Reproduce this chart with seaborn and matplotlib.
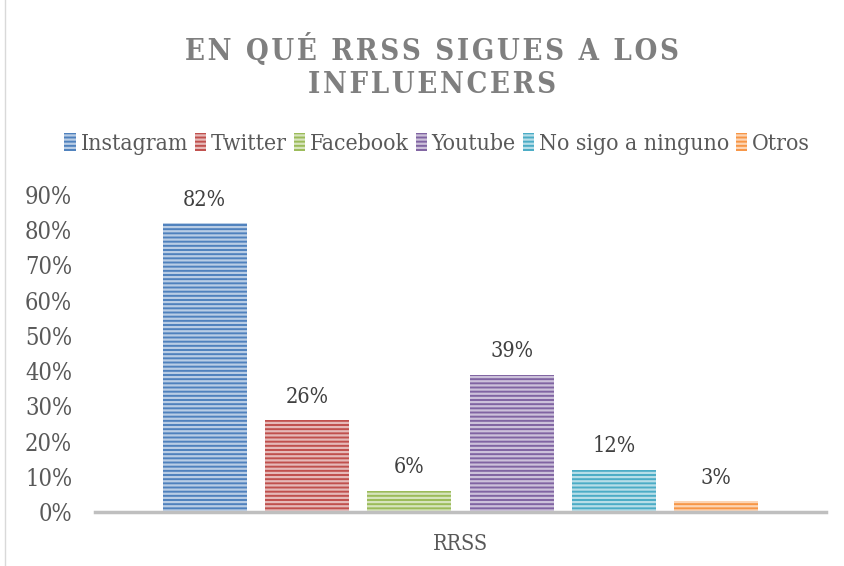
import matplotlib
matplotlib.use("Agg")
import matplotlib.pyplot as plt
import matplotlib.colors as mc
from matplotlib.patches import Patch
import seaborn as sns
import pandas as pd

categories = ["Instagram", "Twitter", "Facebook", "Youtube", "No sigo a ninguno", "Otros"]
values = [0.82, 0.26, 0.06, 0.39, 0.12, 0.03]
group = ["RRSS"] * len(categories)
colors = ["#4F81BD", "#C0504D", "#9BBB59", "#8064A2", "#4BACC6", "#F79646"]
ytick_vals = [0, 0.1, 0.2, 0.3, 0.4, 0.5, 0.6, 0.7, 0.8, 0.9]
title = "EN QUÉ RRSS SIGUES A LOS\nINFLUENCERS"

sns.set_theme(style="white")
plt.rcParams["font.family"] = ["DejaVu Serif", "DejaVu Sans"]
plt.rcParams["font.stretch"] = "condensed"
plt.rcParams["hatch.linewidth"] = 1.6

df = pd.DataFrame({"grupo": group, "red": categories, "valor": values})

fig = plt.figure(figsize=(8.45, 5.66), dpi=100)
ax = fig.add_axes([95/845, 1-512/566, (826-95)/845, (512-195)/566])

sns.barplot(data=df, x="grupo", y="valor", hue="red", hue_order=categories,
            palette=colors, width=0.84, gap=0.18, ax=ax, legend=False,
            saturation=1)

def lighten(c, f=0.55):
    r, g, b = mc.to_rgb(c)
    return (r + (1-r)*f, g + (1-g)*f, b + (1-b)*f)

for cont, col in zip(ax.containers, colors):
    for p in cont.patches:
        p.set_hatch("----")
        p.set_edgecolor(lighten(col, 0.6))
        p.set_linewidth(0)
    ax.bar_label(cont, labels=[f"{v*100:.0f}%" for v in cont.datavalues],
                 padding=9, fontsize=15.5, color="#404040")

ax.set_xlim(-0.5, 0.5)
ax.set_ylim(0, 0.9)
ax.set_yticks(ytick_vals)
ax.set_yticklabels([f"{v*100:.0f}%" for v in ytick_vals], fontsize=17,
                   color="#595959")
ax.tick_params(axis="y", length=0, pad=16.5)
ax.tick_params(axis="x", length=0, pad=15, labelsize=15.5, labelcolor="#595959")
ax.set_xlabel("")
ax.set_ylabel("")
for s in ["top", "right", "left"]:
    ax.spines[s].set_visible(False)
ax.spines["bottom"].set_color("#BFBFBF")
ax.spines["bottom"].set_linewidth(2.5)

handles = [Patch(facecolor=c, edgecolor=lighten(c, 0.6), hatch="----", linewidth=0)
           for c in colors]
fig.legend(handles, categories, loc="center", bbox_to_anchor=(437/845, 1-144/566),
           ncol=6, frameon=False, fontsize=16.5, handlelength=0.5, handleheight=0.8,
           handletextpad=0.2, columnspacing=0.3, labelcolor="#595959")

sp = "\u200a"
def spaced(t):
    return "\n".join(sp.join(list(line)) for line in t.split("\n"))
fig.text(432/845, 1-66/566, spaced(title), ha="center", va="center",
         fontsize=21, fontweight="bold", color="#7F7F7F", linespacing=1.2)

fig.patches.append(plt.Rectangle((0.006, -0.01), 1.1, 1.1, transform=fig.transFigure,
                                 fill=False, edgecolor="#D9D9D9", linewidth=1))

fig.savefig("out.png", dpi=100)
